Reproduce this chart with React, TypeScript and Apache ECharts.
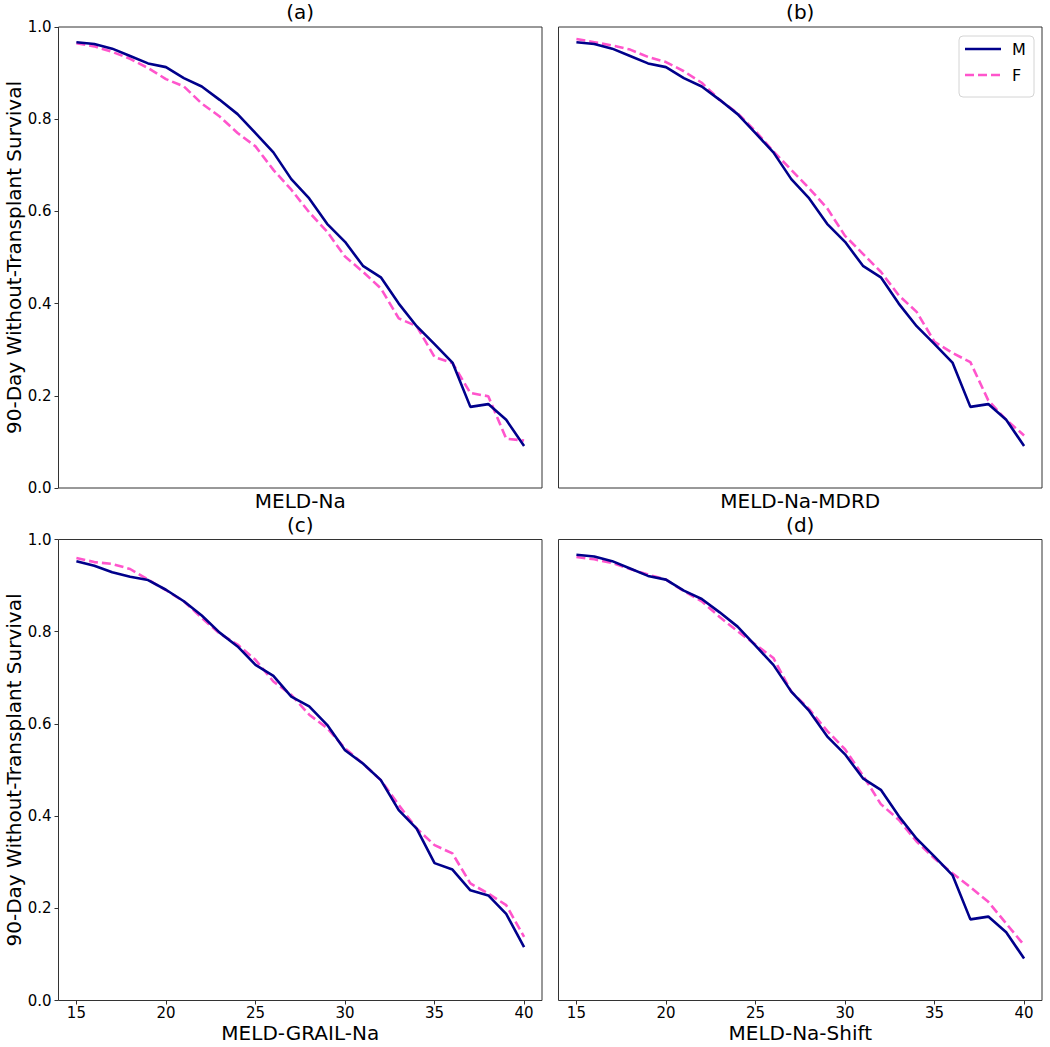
import React, { useEffect, useRef } from "react";
import * as echarts from "echarts";

const meldScores = [15, 16, 17, 18, 19, 20, 21, 22, 23, 24, 25, 26, 27, 28, 29, 30, 31, 32, 33, 34, 35, 36, 37, 38, 39, 40];
const xTickValues = [15, 20, 25, 30, 35, 40];

// Male survival (same for MELD-Na, MELD-Na-MDRD and MELD-Na-Shift panels)
const maleNa = [0.967, 0.963, 0.953, 0.937, 0.921, 0.913, 0.889, 0.871, 0.842, 0.811, 0.770, 0.728, 0.670, 0.628, 0.573, 0.534, 0.482, 0.457, 0.400, 0.351, 0.312, 0.272, 0.176, 0.182, 0.148, 0.091];
const femaleNa = [0.965, 0.958, 0.946, 0.931, 0.911, 0.887, 0.871, 0.834, 0.806, 0.770, 0.741, 0.690, 0.647, 0.598, 0.556, 0.502, 0.469, 0.433, 0.368, 0.351, 0.284, 0.271, 0.206, 0.199, 0.107, 0.103];
const femaleMdrd = [0.974, 0.967, 0.960, 0.951, 0.935, 0.924, 0.904, 0.879, 0.842, 0.813, 0.774, 0.730, 0.690, 0.650, 0.607, 0.547, 0.508, 0.469, 0.418, 0.382, 0.317, 0.293, 0.273, 0.190, 0.148, 0.114];
const maleGrail = [0.953, 0.943, 0.929, 0.919, 0.912, 0.891, 0.866, 0.835, 0.798, 0.768, 0.728, 0.704, 0.659, 0.638, 0.598, 0.543, 0.514, 0.478, 0.413, 0.373, 0.298, 0.284, 0.239, 0.228, 0.188, 0.116];
const femaleGrail = [0.960, 0.951, 0.947, 0.936, 0.913, 0.890, 0.866, 0.830, 0.796, 0.772, 0.739, 0.692, 0.663, 0.620, 0.591, 0.547, 0.514, 0.478, 0.424, 0.373, 0.337, 0.319, 0.254, 0.232, 0.207, 0.138];
const femaleShift = [0.962, 0.957, 0.949, 0.936, 0.924, 0.913, 0.888, 0.866, 0.832, 0.801, 0.772, 0.743, 0.670, 0.632, 0.585, 0.545, 0.488, 0.426, 0.392, 0.345, 0.308, 0.276, 0.246, 0.214, 0.167, 0.120];

const panelTitles = ["(a)", "(b)", "(c)", "(d)"];
const panelXNames = ["MELD-Na", "MELD-Na-MDRD", "MELD-GRAIL-Na", "MELD-Na-Shift"];
const panelMale = [maleNa, maleNa, maleGrail, maleNa];
const panelFemale = [femaleNa, femaleMdrd, femaleGrail, femaleShift];
const yAxisTitle = "90-Day Without-Transplant Survival";
const legendLabels = ["M", "F"];

const FONT = "DejaVu Sans";
const M_COLOR = "#00008b";
const F_COLOR = "#ff55cc";
const F_DASH = [9, 4];

export default function App() {
  const ref = useRef<HTMLDivElement>(null);
  useEffect(() => {
    if (!ref.current) return;
    const chart = echarts.init(ref.current, null, { renderer: "svg" });
    const lefts = [58.5, 558.5];
    const tops = [27, 539.5];
    const W = 483.5;
    const H = 461;
    const grids: any[] = [];
    const xAxes: any[] = [];
    const yAxes: any[] = [];
    const series: any[] = [];
    const graphics: any[] = [];
    for (let i = 0; i < 4; i++) {
      const col = i % 2;
      const row = Math.floor(i / 2);
      grids.push({
        left: lefts[col],
        top: tops[row],
        width: W,
        height: H,
        show: true,
        borderColor: "#333",
        borderWidth: 1,
        backgroundColor: "#fff",
      });
      xAxes.push({
        type: "value",
        gridIndex: i,
        min: 14,
        max: 41,
        name: panelXNames[i],
        nameLocation: "middle",
        nameGap: row === 0 ? 3 : 22,
        nameTextStyle: { fontFamily: FONT, fontSize: 20, color: "#000", verticalAlign: "top" },
        axisLine: { show: false },
        splitLine: { show: false },
        axisTick: { show: row === 1, length: 4, lineStyle: { color: "#333" }, customValues: xTickValues },
        axisLabel: {
          show: row === 1,
          customValues: xTickValues,
          fontFamily: FONT,
          fontSize: 15,
          color: "#000",
          margin: 5,
        },
      });
      yAxes.push({
        type: "value",
        gridIndex: i,
        min: 0,
        max: 1,
        interval: 0.2,
        name: col === 0 ? yAxisTitle : "",
        nameLocation: "middle",
        nameGap: 26,
        nameTextStyle: { fontFamily: FONT, fontSize: 20, color: "#000" },
        axisLine: { show: false },
        splitLine: { show: false },
        axisTick: { show: col === 0, length: 4, lineStyle: { color: "#333" } },
        axisLabel: {
          show: col === 0,
          fontFamily: FONT,
          fontSize: 15,
          color: "#000",
          margin: 7,
          formatter: (v: number) => v.toFixed(1),
        },
      });
      series.push({
        type: "line",
        name: legendLabels[0],
        xAxisIndex: i,
        yAxisIndex: i,
        data: meldScores.map((x, k) => [x, panelMale[i][k]]),
        symbol: "none",
        lineStyle: { color: M_COLOR, width: 2.6, type: "solid" },
        itemStyle: { color: M_COLOR },
        z: 3,
      });
      series.push({
        type: "line",
        name: legendLabels[1],
        xAxisIndex: i,
        yAxisIndex: i,
        data: meldScores.map((x, k) => [x, panelFemale[i][k]]),
        symbol: "none",
        lineStyle: { color: F_COLOR, width: 2.6, type: F_DASH },
        itemStyle: { color: F_COLOR },
        z: 2,
      });
      graphics.push({
        type: "text",
        x: lefts[col] + W / 2,
        y: tops[row] - 15,
        style: {
          text: panelTitles[i],
          fontFamily: FONT,
          fontSize: 20,
          fill: "#000",
          textAlign: "center",
          textVerticalAlign: "middle",
        },
      });
    }
    // Legend box (panel b, upper right)
    const lx = 959;
    const ly = 36;
    graphics.push({
      type: "rect",
      shape: { x: lx, y: ly, width: 75, height: 61, r: 4 },
      style: { fill: "rgba(255,255,255,0.8)", stroke: "#d4d4d4", lineWidth: 1 },
      z: 10,
    });
    const legendColors = [M_COLOR, F_COLOR];
    const legendDash: any[] = [null, F_DASH];
    for (let j = 0; j < 2; j++) {
      const cy = ly + 13 + j * 26;
      graphics.push({
        type: "line",
        shape: { x1: lx + 6, y1: cy, x2: lx + 42, y2: cy },
        style: { stroke: legendColors[j], lineWidth: 2.6, lineDash: legendDash[j] },
        z: 11,
      });
      graphics.push({
        type: "text",
        x: lx + 53,
        y: cy,
        style: {
          text: legendLabels[j],
          fontFamily: FONT,
          fontSize: 16,
          fill: "#000",
          textAlign: "left",
          textVerticalAlign: "middle",
        },
        z: 11,
      });
    }
    chart.setOption({
      animation: false,
      backgroundColor: "#fff",
      grid: grids,
      xAxis: xAxes,
      yAxis: yAxes,
      series,
      graphic: graphics,
    });
    return () => chart.dispose();
  }, []);
  return (
    <div
      ref={ref}
      style={{ position: "fixed", left: 0, top: 0, width: 1050, height: 1047, background: "#fff" }}
    />
  );
}
